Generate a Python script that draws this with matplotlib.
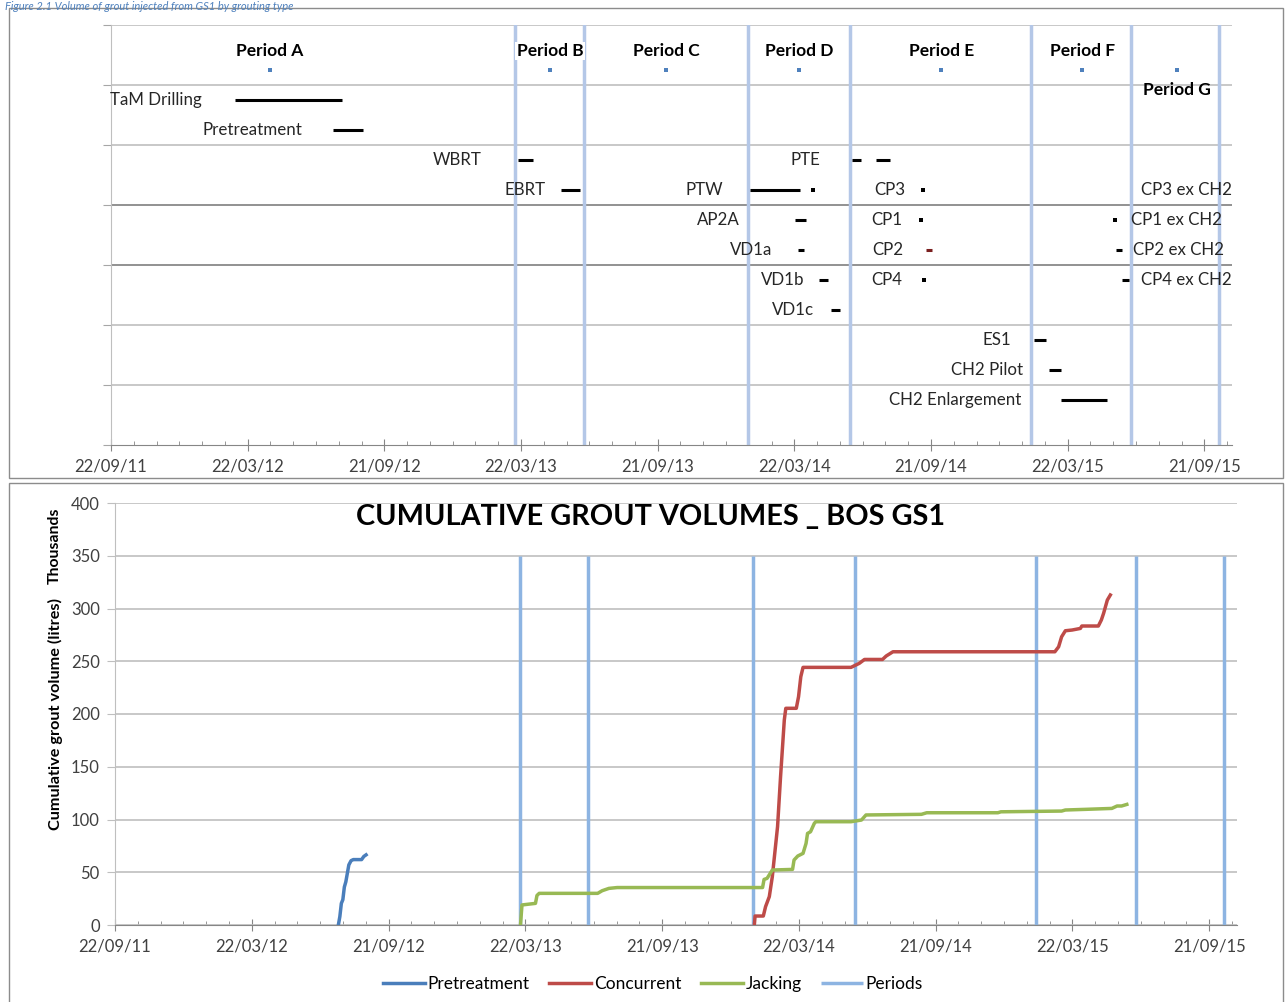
import numpy as np
import matplotlib.pyplot as plt
from matplotlib.patches import Rectangle

plt.rcParams['font.family'] = ['Lato', 'DejaVu Sans']

origin = np.datetime64('2011-09-22')
x_max = 1497  # days after origin
tick_labels = ['22/09/11', '22/03/12', '21/09/12', '22/03/13', '21/09/13',
               '22/03/14', '21/09/14', '22/03/15', '21/09/15']

# period boundaries and the period markers in the top chart
period_bounds = ['2013-03-15', '2013-06-14', '2014-01-20', '2014-06-05',
                 '2015-02-02', '2015-06-15', '2015-10-11']
period_names = ['Period A', 'Period B', 'Period C', 'Period D',
                'Period E', 'Period F', 'Period G']
period_mid = ['2012-04-21', '2013-04-30', '2013-10-02', '2014-03-29',
              '2014-10-05', '2015-04-11', '2015-08-15']
period_row = 6.25

# grouting activities (top chart)
task_names = ['TaM Drilling', 'Pretreatment', 'WBRT', 'EBRT', 'PTE', '',
              'PTW', '', 'CP3', 'CP3 ex CH2', 'AP2A', 'CP1', 'CP1 ex CH2',
              'VD1a', 'CP2', 'CP2 ex CH2', 'VD1b', 'CP4', 'CP4 ex CH2',
              'VD1c', 'ES1', 'CH2 Pilot', 'CH2 Enlargement']
task_start = ['2012-03-05', '2012-07-15', '2013-03-18', '2013-05-15', '2014-06-08', '2014-07-09',
              '2014-01-22', '2014-04-16', '2014-09-11', '2015-06-13', '2014-03-24', '2014-09-08', '2015-05-25',
              '2014-03-27', '2014-09-14', '2015-05-26', '2014-04-25', '2014-09-12', '2015-06-03',
              '2014-05-11', '2015-02-06', '2015-02-25', '2015-03-13']
task_end = ['2012-07-26', '2012-08-23', '2013-04-07', '2013-06-09', '2014-06-20', '2014-07-28',
            '2014-03-30', '2014-04-16', '2014-09-11', '2015-06-13', '2014-04-07', '2014-09-08', '2015-05-25',
            '2014-04-04', '2014-09-23', '2015-06-03', '2014-05-06', '2014-09-12', '2015-06-13',
            '2014-05-22', '2015-02-22', '2015-03-13', '2015-05-14']
task_row = [5.75, 5.25, 4.75, 4.25, 4.75, 4.75,
            4.25, 4.25, 4.25, 4.25, 3.75, 3.75, 3.75,
            3.25, 3.25, 3.25, 2.75, 2.75, 2.75,
            2.25, 1.75, 1.25, 0.75]
task_drawn = [True] * 9 + [False] + [True] * 13
# label offset in pixels: negative = label left of start, positive = right of end
label_dx = [-33, -31, -36, -15, -32, 0,
            -27, 0, -18, 12, -56, -19, 16,
            -25, -22, 11, -15, -22, 12,
            -17, -23, -25, -39]

# cumulative grout volumes (thousands of litres)
pre_dates = ['2012-07-16', '2012-07-18', '2012-07-20', '2012-07-22', '2012-07-24', '2012-07-26',
             '2012-07-30', '2012-08-02', '2012-08-05', '2012-08-16', '2012-08-19', '2012-08-22']
pre_vals = [0, 8, 20.5, 24, 36, 41, 57, 61, 62, 62, 65, 66.5]

con_dates = ['2014-01-22', '2014-01-23', '2014-02-03', '2014-02-06', '2014-02-11', '2014-02-15',
             '2014-02-22', '2014-02-26', '2014-03-03', '2014-03-05', '2014-03-19', '2014-03-22',
             '2014-03-25', '2014-03-28', '2014-05-31', '2014-06-11', '2014-06-18', '2014-07-12',
             '2014-07-17', '2014-07-26', '2015-02-27', '2015-03-04', '2015-03-08', '2015-03-13',
             '2015-03-22', '2015-04-02', '2015-04-04', '2015-04-26', '2015-04-30', '2015-05-03',
             '2015-05-08', '2015-05-12']
con_vals = [0, 8.5, 8.5, 17.4, 26.9, 45.8, 93.2, 140.6, 194.3, 205.4, 205.4, 216.4,
            235.3, 244.2, 244.2, 248, 251.7, 251.7, 255, 259, 259, 263.7, 273.2, 278.9,
            279.6, 281.1, 283.4, 283.4, 289.1, 295.4, 308, 312.8]

jack_dates = ['2013-03-16', '2013-03-18', '2013-04-05', '2013-04-07', '2013-04-10', '2013-06-27',
              '2013-07-03', '2013-07-12', '2013-07-23', '2014-02-02', '2014-02-04', '2014-02-08',
              '2014-02-15', '2014-03-14', '2014-03-16', '2014-03-21', '2014-03-28', '2014-04-01',
              '2014-04-03', '2014-04-07', '2014-04-12', '2014-04-14', '2014-05-31', '2014-06-14',
              '2014-06-20', '2014-09-02', '2014-09-09', '2014-12-13', '2014-12-17', '2015-03-08',
              '2015-03-13', '2015-04-08', '2015-05-14', '2015-05-21', '2015-05-27', '2015-06-03']
jack_vals = [0, 19, 20.5, 28, 30, 30, 32.5, 34.7, 35.5, 35.5, 43.2, 44.2,
             52.1, 52.7, 61.6, 65.4, 67.9, 77.3, 86.8, 88.4, 96.3, 97.9, 97.9, 99.5,
             104.3, 104.9, 106.4, 106.4, 107.3, 108, 109, 109.6, 110.5, 112.8, 112.8, 114.3]


def days(d):
    return (np.array(d, dtype='datetime64[D]') - origin).astype(float)


def style_date_axis(ax):
    ax.set_xlim(0, x_max)
    ax.set_xticks(np.arange(len(tick_labels)) * 182.5)
    ax.set_xticklabels(tick_labels, fontsize=12, color='#404040')
    ax.set_xticks(np.arange(0, x_max, 182.5 / 6), minor=True)
    ax.tick_params(axis='x', which='major', direction='inout', length=8,
                   color='#868686', pad=6)
    ax.tick_params(axis='x', which='minor', direction='in', length=3,
                   color='#868686')
    for s in ['top', 'right']:
        ax.spines[s].set_visible(False)
    ax.spines['bottom'].set_color('#868686')
    ax.spines['left'].set_color('#bfbfbf')


W, H = 1285, 1002
fig = plt.figure(figsize=(W / 100, H / 100), dpi=100)

# panel frames
fig.patches.append(Rectangle((9 / W, 1 - 478 / H), 1274 / W, 470 / H, fill=False,
                             edgecolor='#8c8c8c', lw=1, transform=fig.transFigure))
fig.patches.append(Rectangle((9 / W, -0.01), 1274 / W, 1 - 483 / H + 0.01, fill=False,
                             edgecolor='#8c8c8c', lw=1, transform=fig.transFigure))
fig.text(5 / W, 1 - 1 / H, 'Figure 2.1 Volume of grout injected from GS1 by grouting type',
         color='#4f81bd', style='italic', fontsize=8, va='top', ha='left')

# ---- top chart: activity timeline ----
ax1 = fig.add_axes([111 / W, 1 - 445 / H, 1121 / W, 420 / H])
style_date_axis(ax1)
ax1.set_ylim(0, 7)
ax1.set_yticks(range(8))
ax1.set_yticklabels([])
ax1.tick_params(axis='y', length=6, color='#a6a6a6')
for yv in range(1, 8):
    ax1.axhline(yv, color='#7f7f7f' if yv in (3, 4) else '#bfbfbf', lw=1.2, zorder=1)

for xb in days(period_bounds):
    ax1.axvline(xb, color='#b4c7e7', lw=2.5, zorder=2)

pm = days(period_mid)
ax1.plot(pm, [period_row] * len(pm), 's', color='#4f81bd', ms=3.2, mew=0, zorder=4)
for name, xm in zip(period_names, pm):
    dy = -20 if name == 'Period G' else 19
    ax1.annotate(name, (xm, period_row), xytext=(0, dy), textcoords='offset pixels',
                 ha='center', va='center', fontsize=12.5, fontweight='bold', zorder=3,
                 bbox=dict(fc='white', ec='none', pad=1.0) if name == 'Period B' else None)

t0, t1 = days(task_start), days(task_end)
for name, a, b, row, dx, drawn in zip(task_names, t0, t1, task_row, label_dx, task_drawn):
    col = '#7a1f1f' if name == 'CP2' else 'black'
    if drawn:
        if b > a:
            ax1.plot([a, b], [row, row], color=col, lw=2.2, solid_capstyle='butt', zorder=5)
        else:
            ax1.plot(a, row, 's', color=col, ms=2.6, mew=0, zorder=5)
    if name:
        if dx < 0:
            ax1.annotate(name, (a, row), xytext=(dx, 0), textcoords='offset pixels',
                         ha='right', va='center', fontsize=12.2, color='#262626')
        else:
            ax1.annotate(name, (b, row), xytext=(dx, 0), textcoords='offset pixels',
                         ha='left', va='center', fontsize=12.2, color='#262626')

# ---- bottom chart: cumulative volumes ----
ax2 = fig.add_axes([115 / W, 1 - 925 / H, 1122 / W, 422 / H])
style_date_axis(ax2)
ax2.set_ylim(0, 400)
ax2.set_yticks(range(0, 401, 50))
ax2.tick_params(axis='y', length=6, color='#bfbfbf', labelsize=12, labelcolor='#404040', pad=5)
ax2.grid(axis='y', color='#bfbfbf', lw=1.2)
ax2.set_axisbelow(True)

ax2.vlines(days(period_bounds), 0, 350, color='#8db4e2', lw=2.5, zorder=2, label='Periods')
ax2.plot(days(pre_dates), pre_vals, color='#4a7ebb', lw=2.5, zorder=3, label='Pretreatment')
ax2.plot(days(con_dates), con_vals, color='#be4b48', lw=2.5, zorder=3, label='Concurrent')
ax2.plot(days(jack_dates), jack_vals, color='#98b954', lw=2.5, zorder=3, label='Jacking')

fig.text(650 / W, 1 - 517 / H, 'CUMULATIVE GROUT VOLUMES _ BOS GS1', ha='center', va='center',
         fontsize=20.8, fontweight='bold')
fig.text(55 / W, 1 - 714 / H, 'Cumulative grout volume (litres)', rotation=90,
         ha='center', va='center', fontsize=11.7, fontweight='bold')
fig.text(55 / W, 1 - 546 / H, 'Thousands', rotation=90,
         ha='center', va='center', fontsize=11.3, fontweight='bold')

handles, labels = ax2.get_legend_handles_labels()
order = [1, 2, 3, 0]
fig.legend([handles[i] for i in order], [labels[i] for i in order],
           loc='center', bbox_to_anchor=(653 / W, 1 - 984 / H), ncol=4, frameon=False,
           fontsize=12.5, handlelength=2.4, handletextpad=0.15, columnspacing=1.15)

fig.savefig('out.png', dpi=100)
